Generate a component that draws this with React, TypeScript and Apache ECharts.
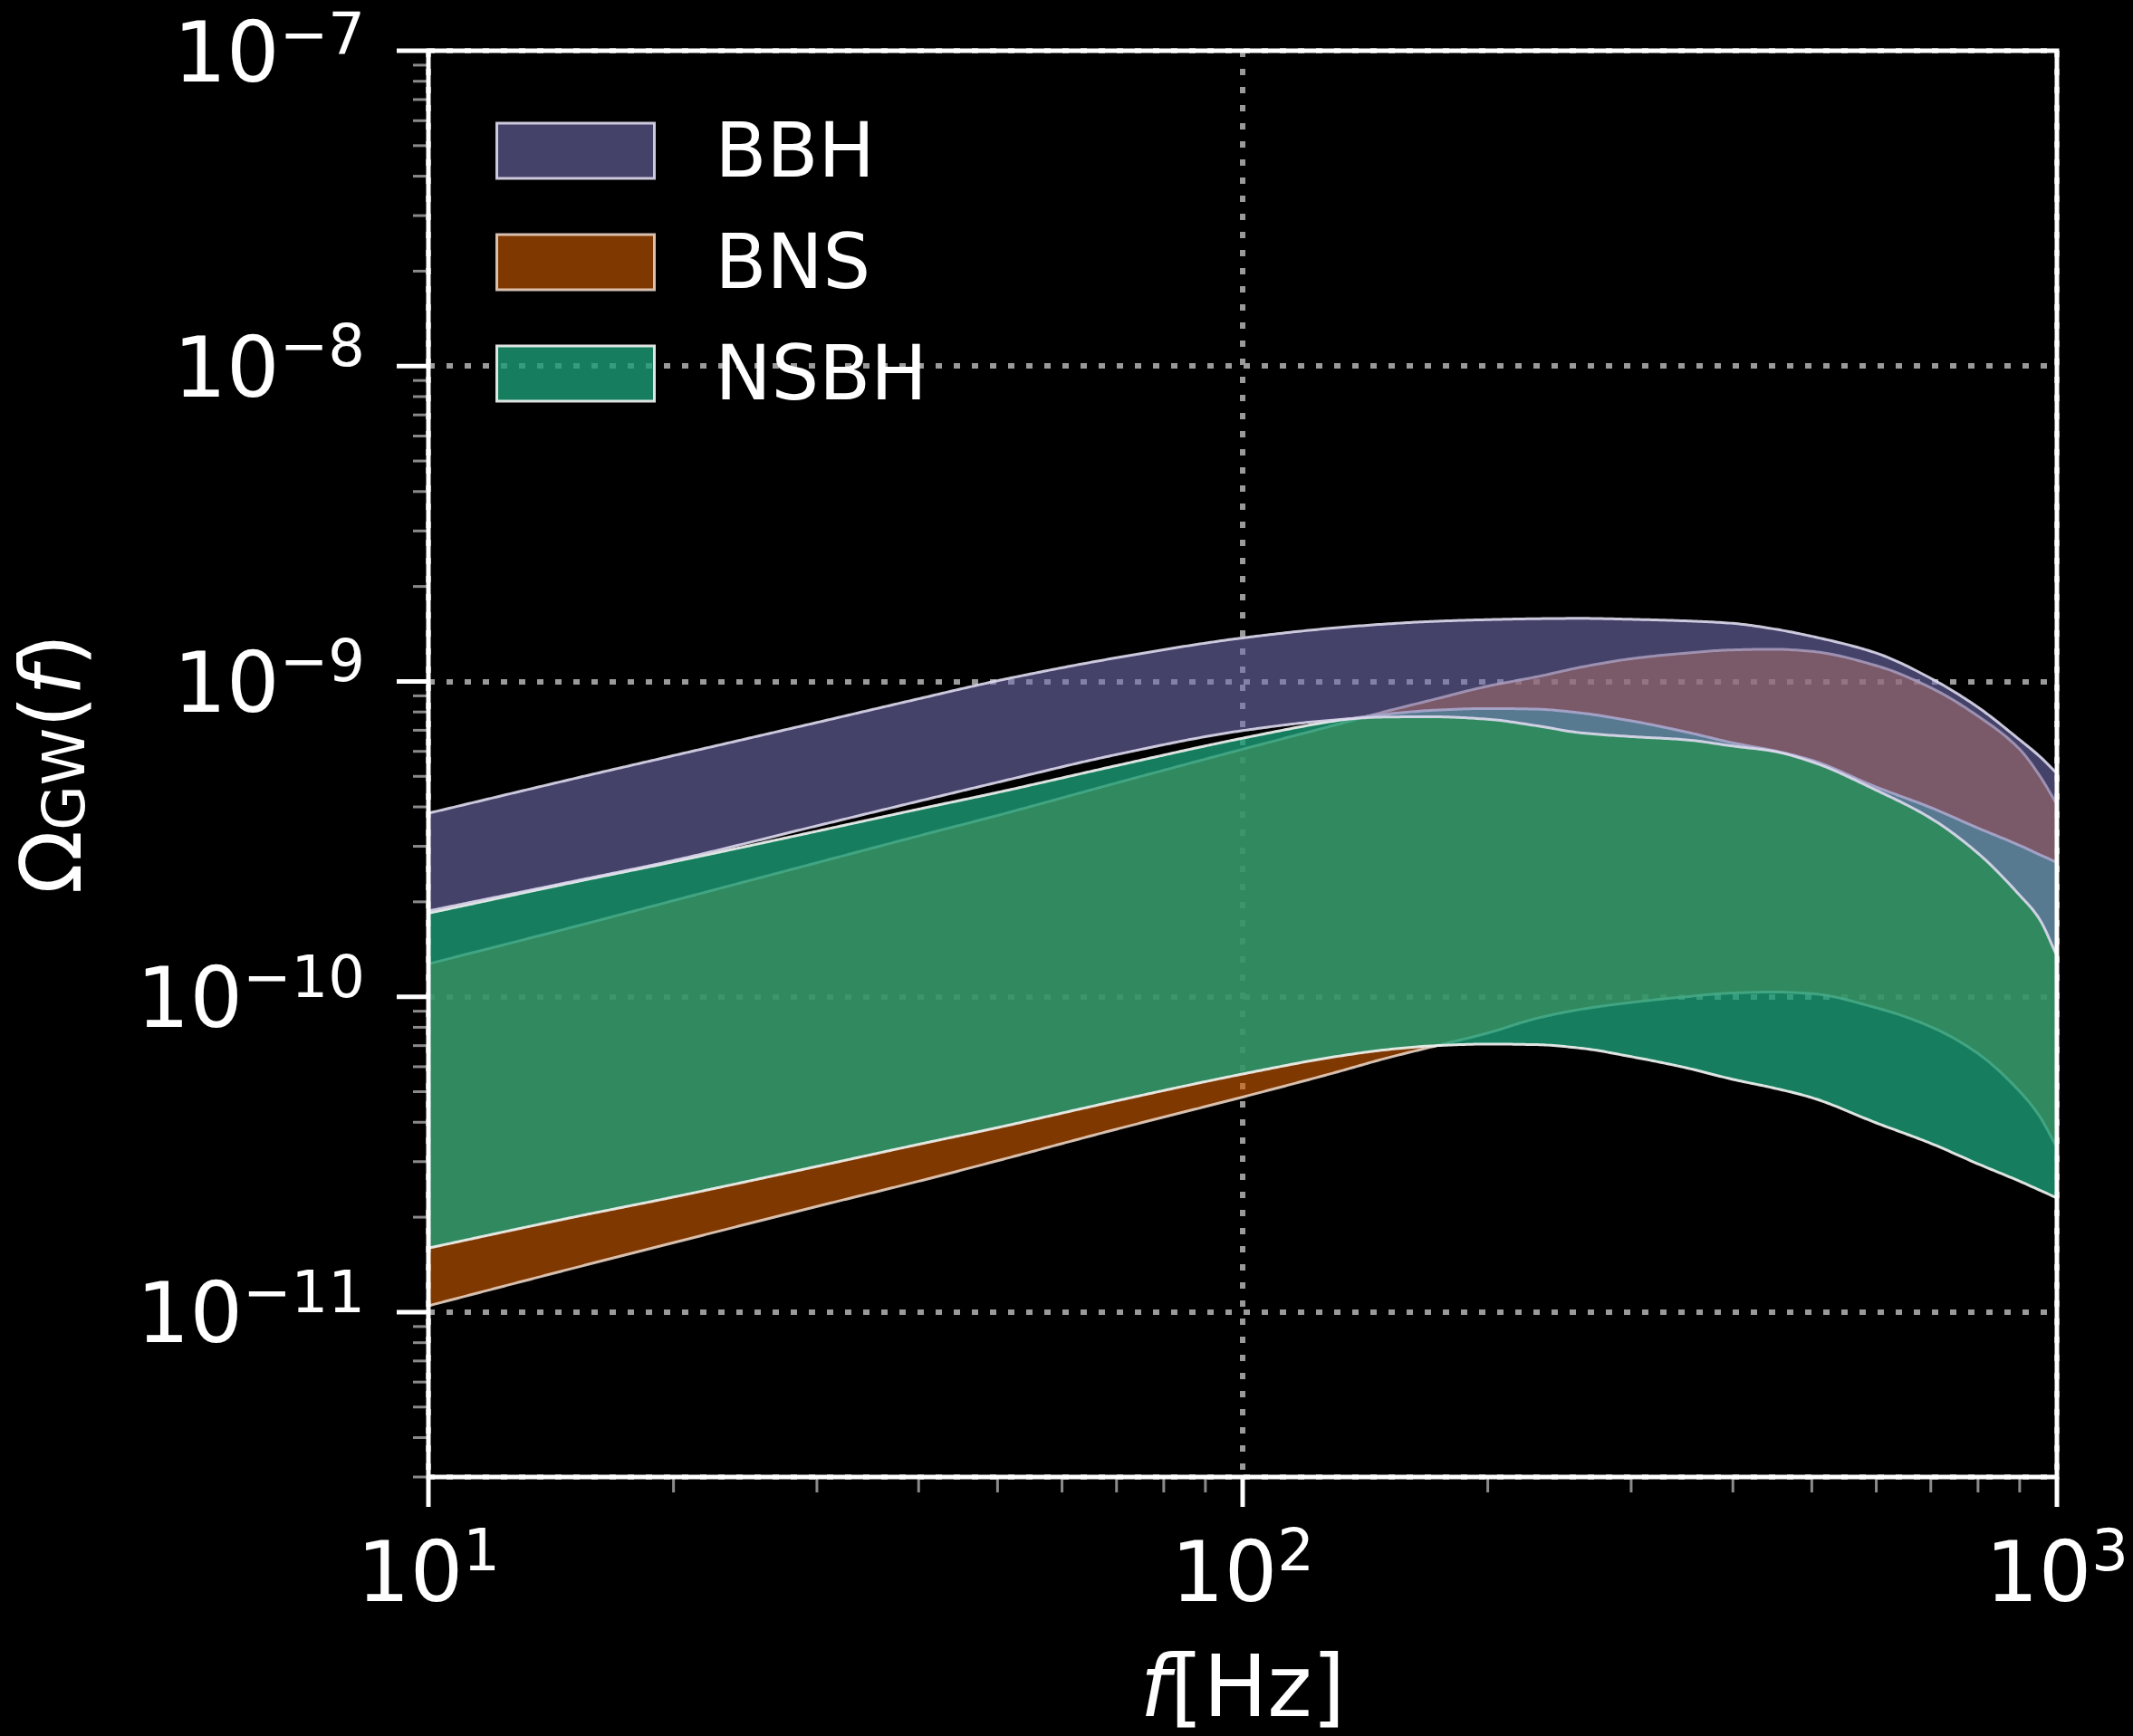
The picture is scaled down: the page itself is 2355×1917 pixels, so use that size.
import React, { useEffect, useRef } from 'react';
import * as echarts from 'echarts';

// ---------------- data ----------------
const FREQ = [10, 15, 20, 30, 40, 50, 70, 100, 130, 150, 170, 200, 230, 260, 300, 350, 400, 450, 500, 600, 700, 800, 900, 950, 1000];

const BBH_UPPER = [3.82e-10, 4.90e-10, 5.82e-10, 7.41e-10, 8.81e-10, 1.005e-9, 1.189e-9, 1.374e-9, 1.479e-9, 1.521e-9, 1.549e-9, 1.570e-9, 1.581e-9, 1.585e-9, 1.574e-9, 1.556e-9, 1.528e-9, 1.466e-9, 1.390e-9, 1.230e-9, 1.023e-9, 8.28e-10, 6.53e-10, 5.82e-10, 5.11e-10];
const BBH_LOWER = [1.871e-10, 2.317e-10, 2.704e-10, 3.483e-10, 4.169e-10, 4.786e-10, 5.861e-10, 6.982e-10, 7.551e-10, 7.709e-10, 7.727e-10, 7.586e-10, 7.228e-10, 6.871e-10, 6.683e-10, 6.531e-10, 6.237e-10, 5.998e-10, 5.559e-10, 4.519e-10, 3.681e-10, 2.851e-10, 2.099e-10, 1.778e-10, 1.349e-10];
const BNS_UPPER = [1.271e-10, 1.660e-10, 2.018e-10, 2.661e-10, 3.236e-10, 3.758e-10, 4.764e-10, 6.095e-10, 7.278e-10, 8.035e-10, 8.710e-10, 9.661e-10, 1.035e-9, 1.109e-9, 1.180e-9, 1.230e-9, 1.259e-9, 1.265e-9, 1.245e-9, 1.122e-9, 9.550e-10, 7.762e-10, 6.095e-10, 5.070e-10, 4.074e-10];
const BNS_LOWER = [1.047e-11, 1.374e-11, 1.660e-11, 2.163e-11, 2.600e-11, 3.020e-11, 3.802e-11, 4.808e-11, 5.754e-11, 6.383e-11, 6.918e-11, 7.674e-11, 8.551e-11, 9.120e-11, 9.594e-11, 1.000e-10, 1.028e-10, 1.035e-10, 1.023e-10, 9.226e-11, 8.035e-11, 6.607e-11, 5.012e-11, 4.217e-11, 3.327e-11];
const NSBH_UPPER = [1.841e-10, 2.301e-10, 2.679e-10, 3.350e-10, 3.936e-10, 4.446e-10, 5.408e-10, 6.607e-10, 7.499e-10, 7.870e-10, 8.091e-10, 8.204e-10, 8.166e-10, 7.943e-10, 7.499e-10, 6.918e-10, 6.383e-10, 6.026e-10, 5.623e-10, 4.624e-10, 3.981e-10, 3.428e-10, 3.020e-10, 2.831e-10, 2.667e-10];
const NSBH_LOWER = [1.596e-11, 1.995e-11, 2.317e-11, 2.897e-11, 3.404e-11, 3.846e-11, 4.677e-11, 5.689e-11, 6.457e-11, 6.792e-11, 6.982e-11, 7.079e-11, 7.047e-11, 6.871e-11, 6.457e-11, 5.957e-11, 5.470e-11, 5.129e-11, 4.786e-11, 3.981e-11, 3.428e-11, 2.951e-11, 2.600e-11, 2.443e-11, 2.301e-11];

const SERIES_NAMES = ['BBH', 'BNS', 'NSBH'];

// axis extents, ticks and tick labels
const X_MIN = 10;
const X_MAX = 1000;
const Y_MIN = 3e-12;
const Y_MAX = 1e-7;
const X_MAJOR = [10, 100, 1000];
const X_LABEL_EXP = ['1', '2', '3'];
const X_MINOR = [20, 30, 40, 50, 60, 70, 80, 90, 200, 300, 400, 500, 600, 700, 800, 900];
const Y_MAJOR = [1e-11, 1e-10, 1e-9, 1e-8, 1e-7];
const Y_LABEL_EXP = ['\u221211', '\u221210', '\u22129', '\u22128', '\u22127'];
const Y_MINOR = [
  3e-12, 4e-12, 5e-12, 6e-12, 7e-12, 8e-12, 9e-12,
  2e-11, 3e-11, 4e-11, 5e-11, 6e-11, 7e-11, 8e-11, 9e-11,
  2e-10, 3e-10, 4e-10, 5e-10, 6e-10, 7e-10, 8e-10, 9e-10,
  2e-9, 3e-9, 4e-9, 5e-9, 6e-9, 7e-9, 8e-9, 9e-9,
  2e-8, 3e-8, 4e-8, 5e-8, 6e-8, 7e-8, 8e-8, 9e-8,
];

// ---------------- styles ----------------
const FONT = "'DejaVu Sans', sans-serif";
const BASE_SIZE = 92;
const SUP_SIZE = 64;
const SUP_RAISE = 24;
const BBH_FILL = 'rgba(117,112,179,0.59)';
const BNS_FILL = 'rgba(217,95,2,0.59)';
const NSBH_FILL = 'rgba(27,158,119,0.8)';
const BBH_EDGE = 'rgba(222,218,238,0.9)';
const BNS_EDGE = 'rgba(236,214,198,0.88)';
const NSBH_EDGE = 'rgba(240,242,240,0.92)';

let measureCtx: CanvasRenderingContext2D | null = null;
function textWidth(txt: string, size: number): number {
  try {
    if (!measureCtx) measureCtx = document.createElement('canvas').getContext('2d');
    if (measureCtx) {
      measureCtx.font = `${size}px ${FONT}`;
      return measureCtx.measureText(txt).width;
    }
  } catch (e) {
    /* ignore */
  }
  let w = 0;
  for (const c of txt) w += (c === '\u2212' ? 0.838 : 0.636) * size;
  return w;
}

// smooth (monotone cubic) rendering of a pixel-space curve whose x increases
function smoothCurve(pts: number[][], step = 3): number[][] {
  const n = pts.length;
  const xs = pts.map((p) => p[0]);
  const ys = pts.map((p) => p[1]);
  const d: number[] = [];
  for (let i = 0; i < n - 1; i++) d.push((ys[i + 1] - ys[i]) / (xs[i + 1] - xs[i]));
  const m: number[] = new Array(n).fill(0);
  m[0] = d[0];
  m[n - 1] = d[n - 2];
  for (let i = 1; i < n - 1; i++) {
    if (d[i - 1] * d[i] <= 0) m[i] = 0;
    else {
      const h0 = xs[i] - xs[i - 1];
      const h1 = xs[i + 1] - xs[i];
      const w1 = 2 * h1 + h0;
      const w2 = h1 + 2 * h0;
      m[i] = (w1 + w2) / (w1 / d[i - 1] + w2 / d[i]);
    }
  }
  const out: number[][] = [];
  for (let i = 0; i < n - 1; i++) {
    const h = xs[i + 1] - xs[i];
    const k = Math.max(1, Math.ceil(h / step));
    for (let j = 0; j < k; j++) {
      const t = j / k;
      const t2 = t * t;
      const t3 = t2 * t;
      const h00 = 2 * t3 - 3 * t2 + 1;
      const h10 = t3 - 2 * t2 + t;
      const h01 = -2 * t3 + 3 * t2;
      const h11 = t3 - t2;
      out.push([xs[i] + t * h, h00 * ys[i] + h10 * h * m[i] + h01 * ys[i + 1] + h11 * h * m[i + 1]]);
    }
  }
  out.push([xs[n - 1], ys[n - 1]]);
  return out;
}

function bandSeries(name: string, lo: number[], hi: number[], fill: string, edge: string) {
  return {
    type: 'custom',
    name,
    coordinateSystem: 'cartesian2d',
    clip: false,
    z: 2,
    silent: true,
    itemStyle: { color: fill, borderColor: edge, borderWidth: 3 },
    data: FREQ.map((f, i) => [f, lo[i], hi[i]]),
    encode: { x: 0, y: [1, 2] },
    renderItem: (params: any, api: any) => {
      if (params.dataIndexInside !== 0) return null;
      const up = smoothCurve(FREQ.map((f, i) => api.coord([f, hi[i]])));
      const dn = smoothCurve(FREQ.map((f, i) => api.coord([f, lo[i]]))).reverse();
      return {
        type: 'polygon',
        shape: { points: up.concat(dn) },
        style: { fill, stroke: edge, lineWidth: 3, lineJoin: 'round' },
      };
    },
  };
}

function labelText(text: string, x: number, y: number, size: number, align: string) {
  return {
    type: 'text',
    style: {
      text,
      x,
      y,
      fill: '#ffffff',
      fontSize: size,
      fontFamily: FONT,
      align,
      verticalAlign: 'middle',
    },
  };
}

const frameSeries = {
  type: 'custom',
  name: 'frame',
  coordinateSystem: 'cartesian2d',
  clip: false,
  z: 10,
  silent: true,
  data: [[100, 1e-9]],
  encode: { x: 0, y: 1 },
  renderItem: (params: any, api: any) => {
    if (params.dataIndexInside !== 0) return null;
    const tl = api.coord([X_MIN, Y_MAX]);
    const br = api.coord([X_MAX, Y_MIN]);
    const ch: any[] = [];
    const minorStyle = { stroke: '#8a8a8a', lineWidth: 3 };
    const majorStyle = { stroke: '#ffffff', lineWidth: 5 };
    X_MINOR.forEach((f) => {
      const x = api.coord([f, Y_MIN])[0];
      ch.push({ type: 'line', shape: { x1: x, y1: br[1], x2: x, y2: br[1] + 17 }, style: minorStyle });
    });
    X_MAJOR.forEach((f, i) => {
      const x = api.coord([f, Y_MIN])[0];
      ch.push({ type: 'line', shape: { x1: x, y1: br[1], x2: x, y2: br[1] + 33 }, style: majorStyle });
      // tick label 10^n, centred on the tick
      const wb = textWidth('10', BASE_SIZE);
      const ws = textWidth(X_LABEL_EXP[i], SUP_SIZE);
      const left = x - (wb + ws) / 2;
      const baseY = br[1] + 105;
      ch.push(labelText('10', left, baseY, BASE_SIZE, 'left'));
      ch.push(labelText(X_LABEL_EXP[i], left + wb, baseY - SUP_RAISE, SUP_SIZE, 'left'));
    });
    Y_MINOR.forEach((v) => {
      const y = api.coord([X_MIN, v])[1];
      ch.push({ type: 'line', shape: { x1: tl[0] - 17, y1: y, x2: tl[0], y2: y }, style: minorStyle });
    });
    Y_MAJOR.forEach((v, i) => {
      const y = api.coord([X_MIN, v])[1];
      ch.push({ type: 'line', shape: { x1: tl[0] - 35, y1: y, x2: tl[0], y2: y }, style: majorStyle });
      // tick label 10^n, right-aligned
      const right = tl[0] - 70;
      const ws = textWidth(Y_LABEL_EXP[i], SUP_SIZE);
      const supY = Math.max(y + 2 - SUP_RAISE, 38);
      ch.push(labelText(Y_LABEL_EXP[i], right, supY, SUP_SIZE, 'right'));
      ch.push(labelText('10', right - ws, y + 2, BASE_SIZE, 'right'));
    });
    ch.push({
      type: 'rect',
      shape: { x: tl[0], y: tl[1], width: br[0] - tl[0], height: br[1] - tl[1] },
      style: { fill: 'none', stroke: '#ffffff', lineWidth: 5 },
    });
    return { type: 'group', children: ch };
  },
};

const gridLine = { show: true, lineStyle: { color: '#9a9a9a', width: 6, type: [7, 13] } };

const option: any = {
  animation: false,
  backgroundColor: '#000000',
  grid: { left: 473, right: 84, top: 56, bottom: 286, outerBoundsMode: 'none', containLabel: false },
  legend: {
    orient: 'vertical',
    left: 547,
    top: 125,
    padding: 0,
    itemWidth: 174,
    itemHeight: 61,
    itemGap: 40,
    icon: 'rect',
    selectedMode: false,
    textStyle: { color: '#ffffff', fontSize: 83, fontFamily: FONT, padding: [0, 0, 0, 62] },
    data: [
      { name: SERIES_NAMES[0], itemStyle: { color: BBH_FILL, borderColor: BBH_EDGE, borderWidth: 3 } },
      { name: SERIES_NAMES[1], itemStyle: { color: BNS_FILL, borderColor: BNS_EDGE, borderWidth: 3 } },
      { name: SERIES_NAMES[2], itemStyle: { color: NSBH_FILL, borderColor: NSBH_EDGE, borderWidth: 3 } },
    ],
  },
  xAxis: {
    type: 'log',
    logBase: 10,
    min: X_MIN,
    max: X_MAX,
    axisLine: { show: false },
    axisTick: { show: false },
    axisLabel: { show: false },
    splitLine: gridLine,
    name: '{i|f}{n|[Hz]}',
    nameLocation: 'middle',
    nameGap: 184,
    nameTextStyle: {
      color: '#ffffff',
      rich: {
        i: { fontSize: 94, lineHeight: 94, fontStyle: 'italic', color: '#ffffff', fontFamily: FONT },
        n: { fontSize: 94, lineHeight: 94, color: '#ffffff', fontFamily: FONT },
      },
    },
  },
  yAxis: {
    type: 'log',
    logBase: 10,
    min: Y_MIN,
    max: Y_MAX,
    axisLine: { show: false },
    axisTick: { show: false },
    axisLabel: { show: false },
    splitLine: gridLine,
    name: '{o|\u03A9}{sub|GW}{o|(}{i|f}{o|)}',
    nameLocation: 'middle',
    nameRotate: 90,
    nameGap: 370,
    nameTextStyle: {
      color: '#ffffff',
      rich: {
        o: { fontSize: 92, lineHeight: 92, color: '#ffffff', fontFamily: FONT },
        sub: { fontSize: 64, lineHeight: 56, verticalAlign: 'bottom', color: '#ffffff', fontFamily: FONT },
        i: { fontSize: 92, lineHeight: 92, fontStyle: 'italic', color: '#ffffff', fontFamily: FONT },
      },
    },
  },
  series: [
    bandSeries(SERIES_NAMES[1], BNS_LOWER, BNS_UPPER, BNS_FILL, BNS_EDGE),
    bandSeries(SERIES_NAMES[2], NSBH_LOWER, NSBH_UPPER, NSBH_FILL, NSBH_EDGE),
    bandSeries(SERIES_NAMES[0], BBH_LOWER, BBH_UPPER, BBH_FILL, BBH_EDGE),
    frameSeries,
  ],
};

export default function App() {
  const ref = useRef<HTMLDivElement>(null);
  useEffect(() => {
    if (!ref.current) return;
    const chart = echarts.init(ref.current, null, { renderer: 'svg' });
    chart.setOption(option);
    return () => chart.dispose();
  }, []);
  return (
    <div
      ref={ref}
      style={{ position: 'fixed', left: 0, top: 0, width: 2355, height: 1917, background: '#000' }}
    />
  );
}
